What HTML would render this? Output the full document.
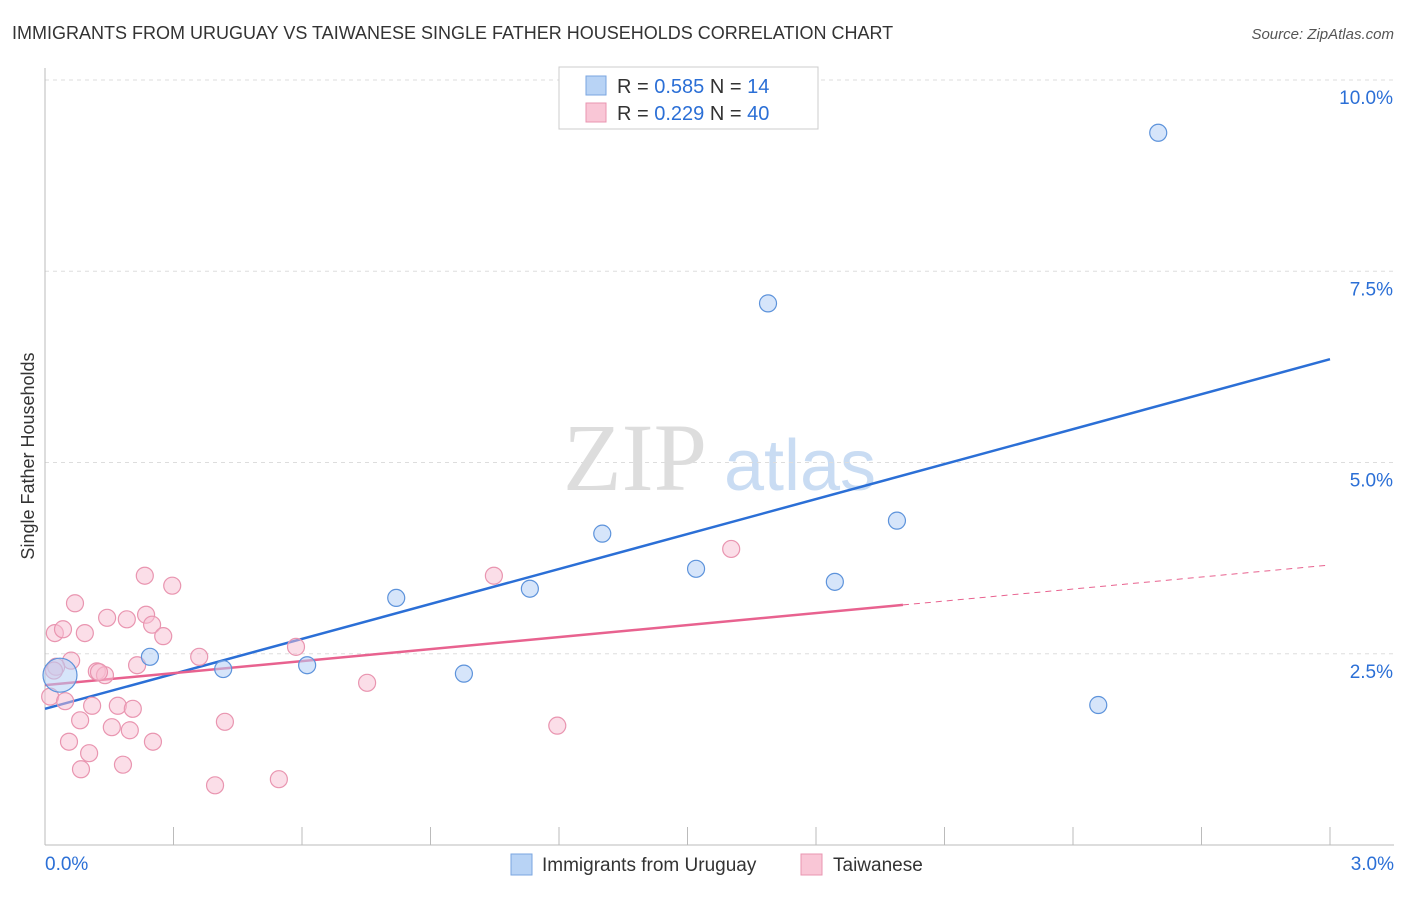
<!DOCTYPE html>
<html><head><meta charset="utf-8"><style>
body{margin:0;background:#fff;font-family:"Liberation Sans",sans-serif}
</style></head><body>
<svg id="chart" width="1406" height="892" xmlns="http://www.w3.org/2000/svg" font-family="Liberation Sans, sans-serif">
<text x="12" y="39" font-size="18" fill="#333">IMMIGRANTS FROM URUGUAY VS TAIWANESE SINGLE FATHER HOUSEHOLDS CORRELATION CHART</text>
<text x="1394" y="39" font-size="15" fill="#555" text-anchor="end" font-style="italic">Source: ZipAtlas.com</text>
<text transform="translate(34,456) rotate(-90)" font-size="18" fill="#333" text-anchor="middle">Single Father Households</text>
<g><text x="635" y="490" font-size="96" font-family="Liberation Serif, serif" fill="#ddd" text-anchor="middle">ZIP</text><text x="800" y="490" font-size="72" fill="#c9dcf3" text-anchor="middle">atlas</text></g>
<g id="grid"></g><g id="axes"></g><g id="lines"></g><g id="pts"></g>
<g>
<rect x="559" y="67" width="259" height="62" fill="#fff" stroke="#ccc"/>
<rect x="586" y="76" width="20" height="19" fill="#b8d3f5" stroke="#7aa6e0"/>
<rect x="586" y="103" width="20" height="19" fill="#f9c6d6" stroke="#e995b0"/>
<text x="617" y="93" font-size="20" fill="#333">R = <tspan fill="#2b6fd6">0.585</tspan>   N = <tspan fill="#2b6fd6"> 14</tspan></text>
<text x="617" y="120" font-size="20" fill="#333">R = <tspan fill="#2b6fd6">0.229</tspan>   N = <tspan fill="#2b6fd6">40</tspan></text>
</g>
<g>
<rect x="511" y="854" width="21" height="21" fill="#b8d3f5" stroke="#7aa6e0"/>
<text x="542" y="871" font-size="19" fill="#333">Immigrants from Uruguay</text>
<rect x="801" y="854" width="21" height="21" fill="#f9c6d6" stroke="#e995b0"/>
<text x="833" y="871" font-size="19" fill="#333">Taiwanese</text>
</g>
</svg>
<script>
const yTicks=[2.5,5.0,7.5,10.0];
const yTickLabels=["2.5%","5.0%","7.5%","10.0%"];
const xTickLabels=["0.0%","3.0%"];
const blueX=[0.035,0.245,0.416,0.612,0.820,0.978,1.132,1.301,1.520,1.688,1.844,1.989,2.459,2.599];
const blueY=[2.22,2.46,2.30,2.35,3.23,2.24,3.35,4.07,3.61,7.08,3.44,4.24,1.83,9.31];
const pinkX=[0.233,0.297,0.070,0.145,0.191,0.236,0.250,0.276,0.023,0.042,0.093,0.061,0.026,0.121,0.140,0.126,0.215,0.360,0.586,0.012,0.047,0.110,0.170,0.205,0.082,0.156,0.198,0.252,0.056,0.103,0.084,0.182,0.397,0.546,0.420,0.752,1.048,1.196,1.602,0.021];
const pinkY=[3.52,3.39,3.16,2.97,2.95,3.01,2.88,2.73,2.77,2.82,2.77,2.41,2.33,2.27,2.22,2.26,2.35,2.46,2.59,1.94,1.88,1.82,1.82,1.78,1.63,1.54,1.50,1.35,1.35,1.20,0.99,1.05,0.78,0.86,1.61,2.12,3.52,1.56,3.87,2.28];
const blueTrend=[1.78,6.35]; // value at x=0 and x=3
const pinkTrend=[2.09,3.66];
const pinkSolidEnd=2.003;
const X=v=>45+v*428.33, Y=v=>845-v*76.5;
const ns="http://www.w3.org/2000/svg";
function mk(p,t,a){const e=document.createElementNS(ns,t);for(const k in a)e.setAttribute(k,a[k]);document.getElementById(p).appendChild(e);return e;}
yTicks.forEach((t,i)=>{
 const l=mk('grid','line',{x1:45,x2:1394,y1:Y(t),y2:Y(t),stroke:'#ddd','stroke-dasharray':'4,4'});
 
 
 const tx=mk('grid','text',{x:1393,y:Y(t)+24,'font-size':19,fill:'#2b6fd6','text-anchor':'end'});tx.textContent=yTickLabels[i];
 
 
});
let a=mk('axes','line',{x1:45,x2:45,y1:68,y2:845,stroke:'#bbb'});


a=mk('axes','line',{x1:45,x2:1394,y1:845,y2:845,stroke:'#bbb'});


for(let i=1;i<=10;i++){const x=X(i*0.3);const t=mk('axes','line',{x1:x,x2:x,y1:827,y2:845,stroke:'#bbb'});
 
 }
[[0,45,'start'],[3,1394,'end']].forEach((d,i)=>{const t=mk('axes','text',{x:d[1],y:870,'font-size':19,fill:'#2b6fd6','text-anchor':d[2]});t.textContent=xTickLabels[i];
 
 });
const pv=x=>pinkTrend[0]+(pinkTrend[1]-pinkTrend[0])*x/3;
let l=mk('lines','line',{x1:X(0),y1:Y(blueTrend[0]),x2:X(3),y2:Y(blueTrend[1]),stroke:'#2b6fd6','stroke-width':2.5});


l=mk('lines','line',{x1:X(0),y1:Y(pv(0)),x2:X(pinkSolidEnd),y2:Y(pv(pinkSolidEnd)),stroke:'#e8628f','stroke-width':2.5});


l=mk('lines','line',{x1:X(pinkSolidEnd),y1:Y(pv(pinkSolidEnd)),x2:X(3),y2:Y(pv(3)),stroke:'#e8628f','stroke-width':1,'stroke-dasharray':'6,5'});


pinkX.forEach((x,i)=>{const c=mk('pts','circle',{cx:X(x),cy:Y(pinkY[i]),r:8.5,fill:'rgba(248,190,210,0.5)',stroke:'#e995b0','stroke-width':1.2});
 
 });
blueX.forEach((x,i)=>{const c=mk('pts','circle',{cx:X(x),cy:Y(blueY[i]),r:i==0?17:8.5,fill:'rgba(180,208,245,0.55)',stroke:'#5d93db','stroke-width':1.2});
 
 });
</script>
</body></html>
